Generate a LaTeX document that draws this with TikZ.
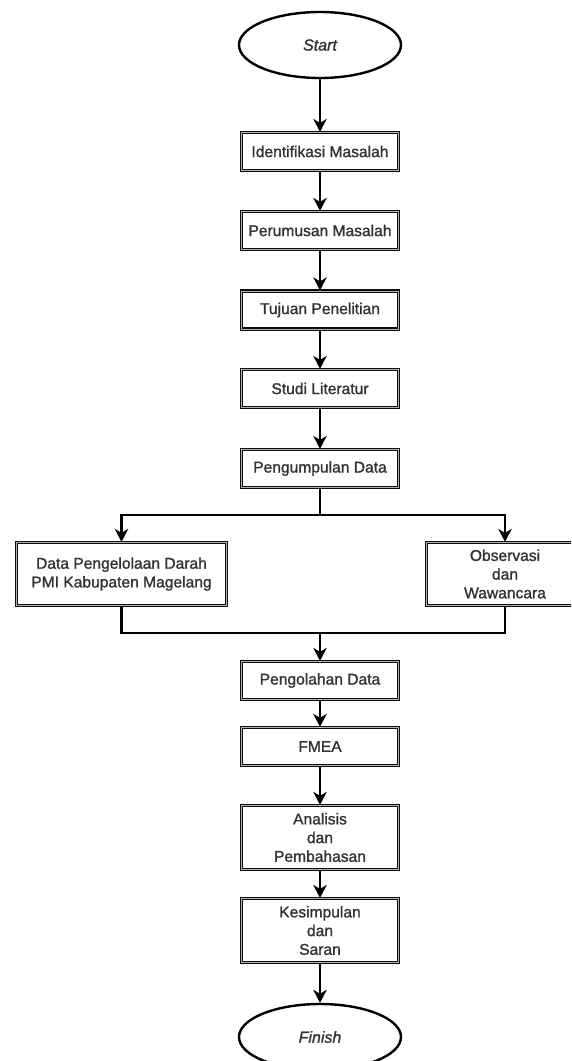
\documentclass[tikz,border=0pt]{standalone}
\usepackage{fontspec}
\setmainfont{Liberation Sans}
\newfontfamily\labelfont{Liberation Sans}[FakeBold=1.3]
\usetikzlibrary{shapes.geometric,arrows.meta}
\begin{document}
\begin{tikzpicture}[x=1pt,y=-1pt,
  stepbox/.style={rectangle, draw=black!95, double=black!30, line width=1.25pt,
    double distance=0.7pt, minimum width=157pt, minimum height=38pt,
    inner sep=2pt, align=center, text=black!80,
    font=\labelfont\fontsize{15.6}{18.7}\selectfont},
  tallbox/.style={stepbox, minimum height=64pt},
  terminal/.style={ellipse, draw=black, line width=2.4pt, minimum width=162pt,
    minimum height=66pt, inner sep=0pt, text=black!80,
    font=\labelfont\fontsize{16}{19}\selectfont\itshape},
  link/.style={draw=black, line width=2.1pt},
  flow/.style={link, -{Stealth[length=13pt,width=13.5pt,inset=4pt]}}
]
% page frame
\useasboundingbox (0,0) rectangle (571,1061);
\fill[white] (0,0) rectangle (571,1061);
\clip (0,0) rectangle (571,1061);

% main column
\node[terminal] (start) at (320,45) {Start};
\node[stepbox] (im) at (320,151.5) {Identifikasi Masalah};
\node[stepbox] (pm) at (320,230.5) {Perumusan Masalah};
\node[stepbox] (tp) at (320,310) {Tujuan Penelitian};
\node[stepbox] (sl) at (320,388.5) {Studi Literatur};
\node[stepbox] (pd) at (320,468.5) {Pengumpulan Data};

% two data sources
\node[stepbox, minimum width=210pt, minimum height=63pt] (dp) at (121.5,574)
  {Data Pengelolaan Darah\\PMI Kabupaten Magelang};
\node[stepbox, minimum height=63pt] (ow) at (505,574)
  {Observasi\\dan\\Wawancara};

% processing and conclusion
\node[stepbox] (pg) at (320,680.5) {Pengolahan Data};
\node[stepbox] (fm) at (320,746.5) {FMEA};
\node[tallbox] (ap) at (320,837.5) {Analisis\\dan\\Pembahasan};
\node[tallbox] (ks) at (320,930.5) {Kesimpulan\\dan\\Saran};
\node[terminal] (fin) at (320,1037) {Finish};

% branch and merge points
\coordinate (split) at (320,515);
\coordinate (merge) at (320,633);

% connectors
\draw[flow] (start) -- (im);
\draw[flow] (im) -- (pm);
\draw[flow] (pm) -- (tp);
\draw[flow] (tp) -- (sl);
\draw[flow] (sl) -- (pd);
\draw[link] (pd) -- (split);
\draw[flow] (split) -| (dp);
\draw[flow] (split) -| (ow);
\draw[link] (dp) |- (merge);
\draw[link] (ow) |- (merge);
\draw[flow] (merge) -- (pg);
\draw[flow] (pg) -- (fm);
\draw[flow] (fm) -- (ap);
\draw[flow] (ap) -- (ks);
\draw[flow] (ks) -- (fin);
\end{tikzpicture}
\end{document}
